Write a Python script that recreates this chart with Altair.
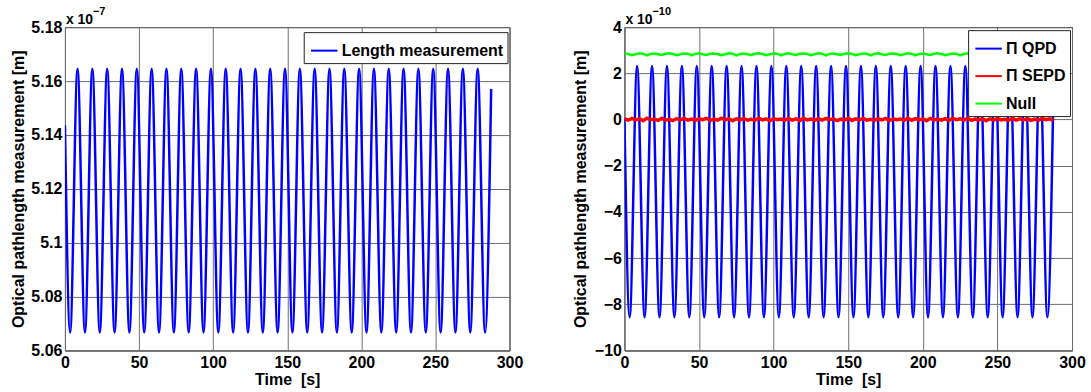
import altair as alt
import pandas as pd

FONT = "Liberation Sans"

# ---------------- Left panel: length measurement (x 1e-7 m) ----------------
len_t = [0, 3.5, 8.5, 13.5, 18.5, 23.5, 28.5, 33.5, 38.5, 43.5, 48.5, 53.5, 58.5,
         63.5, 68.5, 73.5, 78.5, 83.5, 88.5, 93.5, 98.5, 103.5, 108.5, 113.5, 118.5,
         123.5, 128.5, 133.5, 138.5, 143.5, 148.5, 153.5, 158.5, 163.5, 168.5, 173.5,
         178.5, 183.5, 188.5, 193.5, 198.5, 203.5, 208.5, 213.5, 218.5, 223.5, 228.5,
         233.5, 238.5, 243.5, 248.5, 253.5, 258.5, 263.5, 268.5, 273.5, 278.5, 283.5, 287.6]
len_v = [5.1435, 5.0666, 5.1646, 5.0666, 5.1646, 5.0666, 5.1646, 5.0666, 5.1646, 5.0666,
         5.1646, 5.0666, 5.1646, 5.0666, 5.1646, 5.0666, 5.1646, 5.0666, 5.1646, 5.0666,
         5.1646, 5.0666, 5.1646, 5.0666, 5.1646, 5.0666, 5.1646, 5.0666, 5.1646, 5.0666,
         5.1646, 5.0666, 5.1646, 5.0666, 5.1646, 5.0666, 5.1646, 5.0666, 5.1646, 5.0666,
         5.1646, 5.0666, 5.1646, 5.0666, 5.1646, 5.0666, 5.1646, 5.0666, 5.1646, 5.0666,
         5.1646, 5.0666, 5.1646, 5.0666, 5.1646, 5.0666, 5.1646, 5.0666, 5.1570]

# ---------------- Right panel: Pi QPD / Pi SEPD / Null (x 1e-10 m) ----------------
qpd_t = [0, 3.5, 8.5, 13.5, 18.5, 23.5, 28.5, 33.5, 38.5, 43.5, 48.5, 53.5, 58.5,
         63.5, 68.5, 73.5, 78.5, 83.5, 88.5, 93.5, 98.5, 103.5, 108.5, 113.5, 118.5,
         123.5, 128.5, 133.5, 138.5, 143.5, 148.5, 153.5, 158.5, 163.5, 168.5, 173.5,
         178.5, 183.5, 188.5, 193.5, 198.5, 203.5, 208.5, 213.5, 218.5, 223.5, 228.5,
         233.5, 238.5, 243.5, 248.5, 253.5, 258.5, 263.5, 268.5, 273.5, 278.5, 283.5, 287.6]
qpd_v = [0.05, -8.57, 2.32, -8.57, 2.32, -8.57, 2.32, -8.57, 2.32, -8.57,
         2.32, -8.57, 2.32, -8.57, 2.32, -8.57, 2.32, -8.57, 2.32, -8.57,
         2.32, -8.57, 2.32, -8.57, 2.32, -8.57, 2.32, -8.57, 2.32, -8.57,
         2.32, -8.57, 2.32, -8.57, 2.32, -8.57, 2.32, -8.57, 2.32, -8.57,
         2.32, -8.57, 2.32, -8.57, 2.32, -8.57, 2.32, -8.57, 2.32, -8.57,
         2.32, -8.57, 2.32, -8.57, 2.32, -8.57, 2.32, -8.57, 1.50]

noise_t = [0, 2.5, 5, 7.5, 10, 12.5, 15, 17.5, 20, 22.5, 25, 27.5, 30, 32.5, 35, 37.5,
           40, 42.5, 45, 47.5, 50, 52.5, 55, 57.5, 60, 62.5, 65, 67.5, 70, 72.5, 75, 77.5,
           80, 82.5, 85, 87.5, 90, 92.5, 95, 97.5, 100, 102.5, 105, 107.5, 110, 112.5, 115,
           117.5, 120, 122.5, 125, 127.5, 130, 132.5, 135, 137.5, 140, 142.5, 145, 147.5,
           150, 152.5, 155, 157.5, 160, 162.5, 165, 167.5, 170, 172.5, 175, 177.5, 180,
           182.5, 185, 187.5, 190, 192.5, 195, 197.5, 200, 202.5, 205, 207.5, 210, 212.5,
           215, 217.5, 220, 222.5, 225, 227.5, 230, 232.5, 235, 237.5, 240, 242.5, 245,
           247.5, 250, 252.5, 255, 257.5, 260, 262.5, 265, 267.5, 270, 272.5, 275, 277.5,
           280, 282.5, 285, 287.5]
sepd_v = [0.04, -0.03, 0.05, -0.02, 0.03, -0.05, 0.06, -0.01, 0.02, -0.04,
          0.05, -0.03, 0.01, -0.05, 0.04, -0.02, 0.06, -0.03, 0.02, -0.04,
          0.03, -0.01, 0.05, -0.04, 0.02, -0.03, 0.06, -0.02, 0.04, -0.05,
          0.03, -0.02, 0.05, -0.03, 0.01, -0.04, 0.06, -0.02, 0.03, -0.05,
          0.04, -0.01, 0.02, -0.04, 0.05, -0.03, 0.03, -0.05, 0.06, -0.02,
          0.02, -0.04, 0.04, -0.03, 0.05, -0.01, 0.03, -0.05, 0.02, -0.03,
          0.06, -0.04, 0.03, -0.02, 0.05, -0.03, 0.01, -0.04, 0.04, -0.02,
          0.05, -0.05, 0.03, -0.01, 0.02, -0.04, 0.06, -0.03, 0.04, -0.02,
          0.03, -0.05, 0.05, -0.02, 0.02, -0.03, 0.04, -0.04, 0.06, -0.01,
          0.03, -0.03, 0.05, -0.04, 0.02, -0.02, 0.04, -0.05, 0.03, -0.03,
          0.05, -0.02, 0.01, -0.04, 0.06, -0.03, 0.03, -0.02, 0.04, -0.04,
          0.02, -0.03, 0.05, -0.01, 0.03, -0.04]
null_v = [2.86, 2.84, 2.79, 2.83, 2.87, 2.85, 2.78, 2.84, 2.86, 2.83,
          2.80, 2.85, 2.87, 2.84, 2.79, 2.83, 2.86, 2.85, 2.78, 2.84,
          2.87, 2.83, 2.80, 2.85, 2.86, 2.84, 2.79, 2.83, 2.87, 2.85,
          2.78, 2.84, 2.86, 2.83, 2.80, 2.85, 2.87, 2.84, 2.79, 2.83,
          2.86, 2.85, 2.78, 2.84, 2.87, 2.83, 2.80, 2.85, 2.86, 2.84,
          2.79, 2.83, 2.87, 2.85, 2.78, 2.84, 2.86, 2.83, 2.80, 2.85,
          2.87, 2.84, 2.79, 2.83, 2.86, 2.85, 2.78, 2.84, 2.87, 2.83,
          2.80, 2.85, 2.86, 2.84, 2.79, 2.83, 2.87, 2.85, 2.78, 2.84,
          2.86, 2.83, 2.80, 2.85, 2.87, 2.84, 2.79, 2.83, 2.86, 2.85,
          2.78, 2.84, 2.87, 2.83, 2.80, 2.85, 2.86, 2.84, 2.79, 2.83,
          2.87, 2.85, 2.78, 2.84, 2.86, 2.83, 2.80, 2.85, 2.87, 2.84,
          2.79, 2.83, 2.86, 2.85, 2.78, 2.84]

x_ticks = [0, 50, 100, 150, 200, 250, 300]
yl_ticks = [5.06, 5.08, 5.1, 5.12, 5.14, 5.16, 5.18]
yr_ticks = [-10, -8, -6, -4, -2, 0, 2, 4]
left_names = ["Length measurement"]
right_names = ["\u03a0 QPD", "\u03a0 SEPD", "Null"]
left_colors = ["#0000ff"]
right_colors = ["#0000ff", "#ff0000", "#00ff00"]
exp_texts = pd.DataFrame({"base": ["x 10"], "l": ["\u22127"], "r": ["\u221210"]})

LW, RW, H = 445, 448, 323.5

def x_enc():
    return alt.X("t:Q", scale=alt.Scale(domain=[0, 300], nice=False, zero=False),
                 axis=alt.Axis(values=x_ticks, format="d", title="Time\u00a0 [s]",
                               labelPadding=4, titleY=34, titleBaseline="alphabetic"))

def y_axis(vals, fmt, tx):
    return alt.Axis(values=vals, format=fmt, title="Optical pathlength measurement [m]",
                    labelPadding=3, titleX=tx, titleY=H / 2, titleBaseline="bottom",
                    titleAngle=270)

def legend(lx, ly):
    return alt.Legend(title=None, orient="none", legendX=lx, legendY=ly,
                      symbolType="stroke", symbolSize=700, symbolStrokeWidth=2,
                      symbolOffset=2, labelFont=FONT, labelFontWeight="bold",
                      labelFontSize=16, labelColor="black", labelOffset=3, labelLimit=0,
                      strokeColor="#222222", fillColor="white", padding=4, rowPadding=4.5,
                      cornerRadius=0)

def exp_layer(field):
    base = alt.Chart(exp_texts).mark_text(align="left", baseline="alphabetic", font=FONT,
                                          fontWeight="bold", fontSize=14, color="black").encode(
        x=alt.value(1), y=alt.value(-3), text="base:N")
    sup = alt.Chart(exp_texts).mark_text(align="left", baseline="alphabetic", font=FONT,
                                         fontWeight="bold", fontSize=11, color="black").encode(
        x=alt.value(28), y=alt.value(-12), text=f"{field}:N")
    return base, sup

# Left chart
df_len = pd.DataFrame({"t": len_t, "v": len_v, "s": left_names[0]})
left_line = alt.Chart(df_len).mark_line(strokeWidth=2.5, interpolate="monotone", clip=True).encode(
    x=x_enc(),
    y=alt.Y("v:Q", scale=alt.Scale(domain=[5.06, 5.18], nice=False, zero=False),
            axis=y_axis(yl_ticks, ".2~f", -38)),
    color=alt.Color("s:N", scale=alt.Scale(domain=left_names, range=left_colors),
                    legend=legend(239, 5)),
)
lb, ls = exp_layer("l")
left = alt.layer(left_line, lb, ls).properties(width=LW, height=H)

# Right chart
yr = alt.Y("v:Q", scale=alt.Scale(domain=[-10, 4], nice=False, zero=False),
           axis=y_axis(yr_ticks, "d", -36))
cr = alt.Scale(domain=right_names, range=right_colors)
df_q = pd.DataFrame({"t": qpd_t, "v": qpd_v, "s": right_names[0]})
df_s = pd.DataFrame({"t": noise_t, "v": sepd_v, "s": right_names[1]})
df_n = pd.DataFrame({"t": noise_t, "v": null_v, "s": right_names[2]})
q_line = alt.Chart(df_q).mark_line(strokeWidth=2.5, interpolate="monotone", clip=True).encode(
    x=x_enc(), y=yr, color=alt.Color("s:N", scale=cr, legend=legend(344, 3)))
s_line = alt.Chart(df_s).mark_line(strokeWidth=3.5, clip=True).encode(
    x=x_enc(), y=yr, color=alt.Color("s:N", scale=cr, legend=legend(344, 3)))
n_line = alt.Chart(df_n).mark_line(strokeWidth=2.5, clip=True).encode(
    x=x_enc(), y=yr, color=alt.Color("s:N", scale=cr, legend=legend(344, 3)))
rb, rs = exp_layer("r")
right = alt.layer(q_line, s_line, n_line, rb, rs).properties(width=RW, height=H)

chart = alt.hconcat(left, right, spacing=115, bounds="flush").resolve_scale(
    color="independent").resolve_legend(color="independent").properties(
    padding={"left": 10, "top": 5, "right": 5, "bottom": 5}, background="white"
).configure_view(stroke="#262626", strokeWidth=1).configure_axis(
    grid=True, gridColor="#6e6e6e", gridOpacity=1, gridWidth=1, domain=False, ticks=False,
    tickSize=0, labelFont=FONT, labelFontWeight="bold", labelFontSize=16, labelColor="black",
    titleFont=FONT, titleFontWeight="bold", titleFontSize=16, titleColor="black",
    labelOverlap=False, labelFlush=False)

chart.save("out.html", embed_options={"renderer": "svg", "actions": False})
